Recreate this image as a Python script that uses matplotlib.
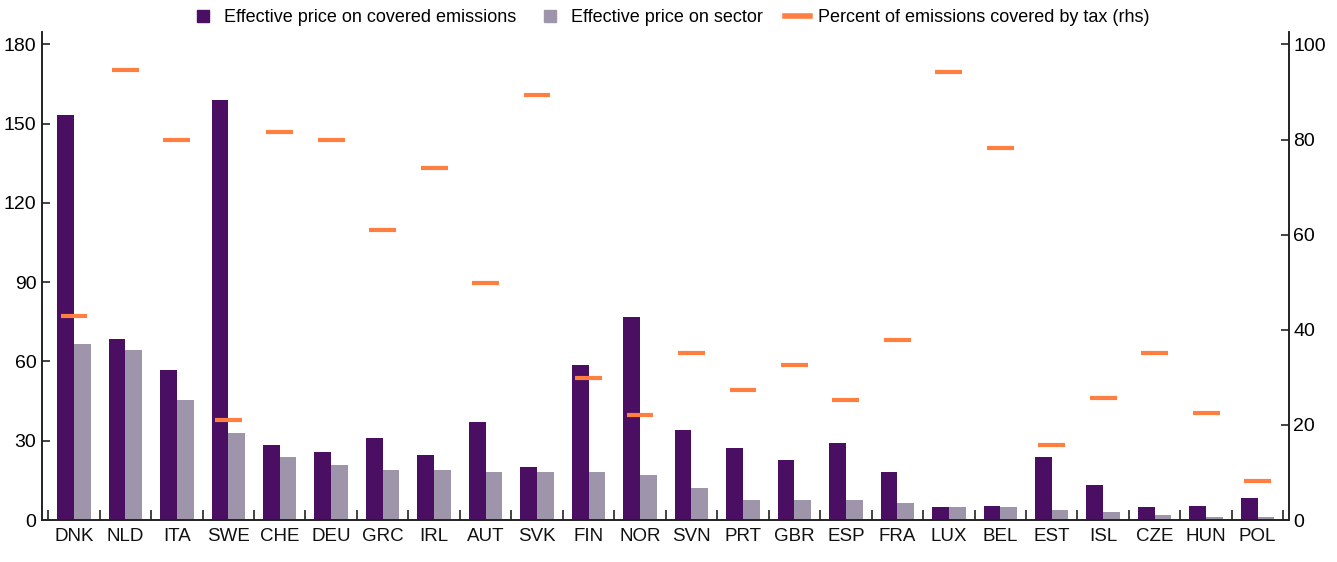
import matplotlib
matplotlib.use('Agg')
import matplotlib.pyplot as plt
from matplotlib.lines import Line2D
import numpy as np

countries = ['DNK', 'NLD', 'ITA', 'SWE', 'CHE', 'DEU', 'GRC', 'IRL', 'AUT', 'SVK', 'FIN', 'NOR',
             'SVN', 'PRT', 'GBR', 'ESP', 'FRA', 'LUX', 'BEL', 'EST', 'ISL', 'CZE', 'HUN', 'POL']
price_covered = [153.4, 68.4, 56.8, 159.1, 28.5, 25.6, 31.2, 24.5, 37.1, 19.9, 58.7, 76.8,
                 34.1, 27.4, 22.6, 29.3, 18.2, 4.8, 5.4, 23.7, 13.2, 4.8, 5.4, 8.4]
price_sector = [66.5, 64.2, 45.3, 33.0, 23.7, 20.7, 18.9, 18.9, 18.2, 18.2, 18.2, 17.0,
                12.2, 7.7, 7.7, 7.7, 6.6, 4.8, 4.8, 3.7, 2.9, 1.8, 1.0, 1.0]
pct_covered = [43.0, 94.6, 79.9, 21.0, 81.5, 79.9, 61.0, 74.1, 49.9, 89.4, 29.9, 22.0,
               35.1, 27.3, 32.5, 25.2, 37.8, 94.2, 78.3, 15.7, 25.7, 35.2, 22.6, 8.3]

DARK = '#4a0f62'
GREY = '#9e95aa'
ORANGE = '#ff7f41'
AXIS = '#222222'

plt.rcParams['font.family'] = ['Liberation Sans', 'DejaVu Sans']
plt.rcParams['font.size'] = 13

fig = plt.figure(figsize=(13.37, 5.62), dpi=100)
ax = fig.add_axes([0.0314, 0.0747, 0.9327, 0.8683])
ax2 = ax.twinx()

x = np.arange(len(countries))
w = 0.325
# purple/grey bar pairs on the left axis, orange dashes on the right
ax.bar(x - w / 2, price_covered, w, color=DARK, zorder=2)
ax.bar(x + w / 2, price_sector, w, color=GREY, zorder=2)
ax2.hlines(pct_covered, x - 0.26, x + 0.26, color=ORANGE, lw=3, zorder=3)

ax.set_xlim(-0.62, len(countries) - 0.39)
ax.set_ylim(0, 184.7)
ax2.set_ylim(0, 102.6)
ax.set_yticks(np.arange(0, 181, 30))
ax2.set_yticks(np.arange(0, 101, 20))

ax.set_xticks(x)
ax.set_xticklabels(countries)
ax.set_xticks(np.arange(len(countries) + 1) - 0.5, minor=True)
ax.tick_params(axis='x', which='major', length=0, pad=6, colors='#111111', labelsize=13.5)
ax.tick_params(axis='x', which='minor', direction='in', length=7, width=1.2, color=AXIS)
ax.tick_params(axis='y', direction='in', length=6, width=1.2, pad=4, color=AXIS, labelsize=14)
ax2.tick_params(axis='y', direction='in', length=6, width=1.2, pad=3, color=AXIS, labelsize=14)

for a in (ax, ax2):
    a.spines['top'].set_visible(False)
    for s in ('left', 'right', 'bottom'):
        a.spines[s].set_color(AXIS)
        a.spines[s].set_linewidth(1.2)

handles = [
    Line2D([], [], marker='s', ls='none', color=DARK, markersize=9),
    Line2D([], [], marker='s', ls='none', color=GREY, markersize=9),
    Line2D([], [], color=ORANGE, lw=4),
]
labels = ['Effective price on covered emissions', 'Effective price on sector',
          'Percent of emissions covered by tax (rhs)']
fig.legend(handles, labels, loc='center', bbox_to_anchor=(0.501, 0.968), ncol=3,
           frameon=False, handlelength=1.4, handletextpad=0.45, columnspacing=1.2,
           fontsize=13)

fig.savefig('out.png', dpi=100)
